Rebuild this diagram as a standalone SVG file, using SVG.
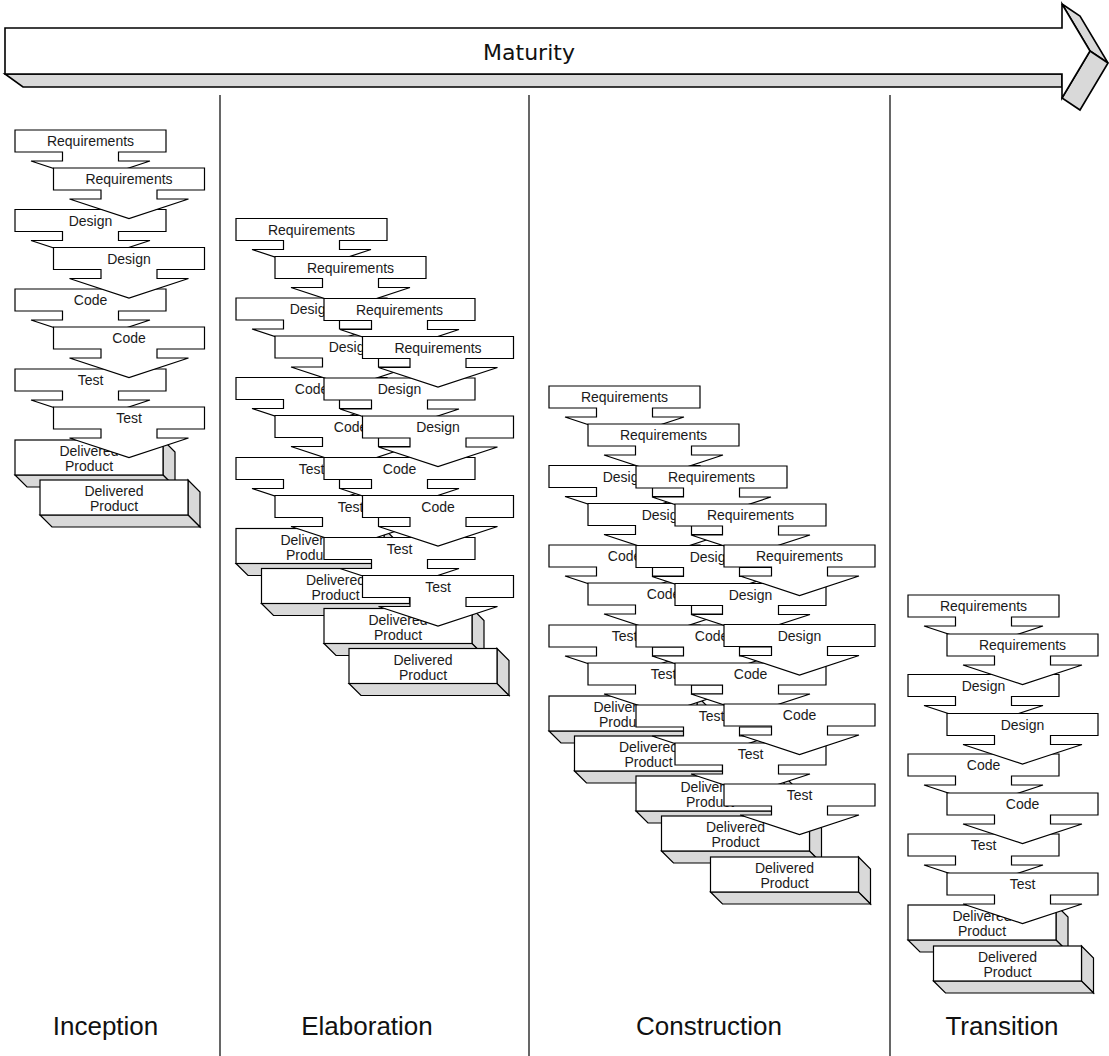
<svg xmlns="http://www.w3.org/2000/svg" xmlns:xlink="http://www.w3.org/1999/xlink" width="1109" height="1056" viewBox="0 0 1109 1056">
<style>
.box{fill:#fff;stroke:#000;stroke-width:1.2;stroke-linejoin:miter}
.shade{fill:#d9d9d9;stroke:#000;stroke-width:1.2;stroke-linejoin:miter}
.lbl{font-family:"Liberation Sans",Arial,sans-serif;font-size:14px;fill:#1a1a1a;text-anchor:middle}
.phase{font-family:"Liberation Sans",Arial,sans-serif;font-size:26px;fill:#111;text-anchor:middle}
.mat{font-family:"DejaVu Sans",Verdana,sans-serif;font-size:22px;fill:#111;text-anchor:middle}
.div{stroke:#000;stroke-width:1.2;fill:none}
.mbox{fill:#fff;stroke:#000;stroke-width:1.6;stroke-linejoin:miter}
.mshade{fill:#d9d9d9;stroke:#000;stroke-width:1.6;stroke-linejoin:miter}
</style>
<defs>
<path id="step" class="box" d="M0,0 H151 V22 H103.5 V31 H135 L75.5,50.5 L16,31 H47.5 V22 H0 Z"/>
<g id="deliv">
<polygon class="shade" points="148,0 160,12 160,47 148,35"/>
<polygon class="shade" points="0,35 148,35 160,47 12,47"/>
<rect class="box" x="0" y="0" width="148" height="35"/>
</g>
</defs>
<rect width="1109" height="1056" fill="#fff"/>

<g id="maturity">
<polygon class="mshade" points="5,74 1062,74 1062,87 23,87"/>
<polygon class="mshade" points="1062,4 1080,16 1108,63 1090,51"/>
<polygon class="mshade" points="1090,51 1108,63 1080,110 1062,98"/>
<polygon class="mbox" points="5,28 1062,28 1062,4 1090,51 1062,98 1062,74 5,74"/>
<text class="mat" x="529" y="60">Maturity</text>
</g>

<g id="dividers">
<line class="div" x1="220" y1="95" x2="220" y2="1056"/>
<line class="div" x1="529" y1="95" x2="529" y2="1056"/>
<line class="div" x1="890" y1="95" x2="890" y2="1056"/>
</g>

<g id="connectors"/>

<!-- Inception -->
<g id="inc-c1">
<g id="inc-c1-req" transform="translate(15,130)"><use xlink:href="#step"/><text class="lbl" x="75.5" y="16">Requirements</text></g>
<g id="inc-c1-des" transform="translate(15,209.5)"><use xlink:href="#step"/><text class="lbl" x="75.5" y="16">Design</text></g>
<g id="inc-c1-code" transform="translate(15,289)"><use xlink:href="#step"/><text class="lbl" x="75.5" y="16">Code</text></g>
<g id="inc-c1-test" transform="translate(15,369)"><use xlink:href="#step"/><text class="lbl" x="75.5" y="16">Test</text></g>
<g id="inc-c1-del" transform="translate(15,440)"><use xlink:href="#deliv"/><text class="lbl" x="74" y="16">Delivered</text><text class="lbl" x="74" y="31">Product</text></g>
</g>
<g id="inc-c2">
<g id="inc-c2-req" transform="translate(53.5,168)"><use xlink:href="#step"/><text class="lbl" x="75.5" y="16">Requirements</text></g>
<g id="inc-c2-des" transform="translate(53.5,247.5)"><use xlink:href="#step"/><text class="lbl" x="75.5" y="16">Design</text></g>
<g id="inc-c2-code" transform="translate(53.5,327)"><use xlink:href="#step"/><text class="lbl" x="75.5" y="16">Code</text></g>
<g id="inc-c2-test" transform="translate(53.5,407)"><use xlink:href="#step"/><text class="lbl" x="75.5" y="16">Test</text></g>
<g id="inc-c2-del" transform="translate(40,480)"><use xlink:href="#deliv"/><text class="lbl" x="74" y="16">Delivered</text><text class="lbl" x="74" y="31">Product</text></g>
</g>

<!-- Elaboration -->
<g id="ela-c1">
<g id="ela-c1-req" transform="translate(236,218.5)"><use xlink:href="#step"/><text class="lbl" x="75.5" y="16">Requirements</text></g>
<g id="ela-c1-des" transform="translate(236,298)"><use xlink:href="#step"/><text class="lbl" x="75.5" y="16">Design</text></g>
<g id="ela-c1-code" transform="translate(236,377.5)"><use xlink:href="#step"/><text class="lbl" x="75.5" y="16">Code</text></g>
<g id="ela-c1-test" transform="translate(236,457.5)"><use xlink:href="#step"/><text class="lbl" x="75.5" y="16">Test</text></g>
<g id="ela-c1-del" transform="translate(236,528.5)"><use xlink:href="#deliv"/><text class="lbl" x="74" y="16">Delivered</text><text class="lbl" x="74" y="31">Product</text></g>
</g>
<g id="ela-c2">
<g id="ela-c2-req" transform="translate(275,256.5)"><use xlink:href="#step"/><text class="lbl" x="75.5" y="16">Requirements</text></g>
<g id="ela-c2-des" transform="translate(275,336)"><use xlink:href="#step"/><text class="lbl" x="75.5" y="16">Design</text></g>
<g id="ela-c2-code" transform="translate(275,415.5)"><use xlink:href="#step"/><text class="lbl" x="75.5" y="16">Code</text></g>
<g id="ela-c2-test" transform="translate(275,495.5)"><use xlink:href="#step"/><text class="lbl" x="75.5" y="16">Test</text></g>
<g id="ela-c2-del" transform="translate(261.5,568.5)"><use xlink:href="#deliv"/><text class="lbl" x="74" y="16">Delivered</text><text class="lbl" x="74" y="31">Product</text></g>
</g>
<g id="ela-c3">
<g id="ela-c3-req" transform="translate(324,298.5)"><use xlink:href="#step"/><text class="lbl" x="75.5" y="16">Requirements</text></g>
<g id="ela-c3-des" transform="translate(324,378)"><use xlink:href="#step"/><text class="lbl" x="75.5" y="16">Design</text></g>
<g id="ela-c3-code" transform="translate(324,457.5)"><use xlink:href="#step"/><text class="lbl" x="75.5" y="16">Code</text></g>
<g id="ela-c3-test" transform="translate(324,537.5)"><use xlink:href="#step"/><text class="lbl" x="75.5" y="16">Test</text></g>
<g id="ela-c3-del" transform="translate(324,608.5)"><use xlink:href="#deliv"/><text class="lbl" x="74" y="16">Delivered</text><text class="lbl" x="74" y="31">Product</text></g>
</g>
<g id="ela-c4">
<g id="ela-c4-req" transform="translate(362.5,336.5)"><use xlink:href="#step"/><text class="lbl" x="75.5" y="16">Requirements</text></g>
<g id="ela-c4-des" transform="translate(362.5,416)"><use xlink:href="#step"/><text class="lbl" x="75.5" y="16">Design</text></g>
<g id="ela-c4-code" transform="translate(362.5,495.5)"><use xlink:href="#step"/><text class="lbl" x="75.5" y="16">Code</text></g>
<g id="ela-c4-test" transform="translate(362.5,575.5)"><use xlink:href="#step"/><text class="lbl" x="75.5" y="16">Test</text></g>
<g id="ela-c4-del" transform="translate(349,648.5)"><use xlink:href="#deliv"/><text class="lbl" x="74" y="16">Delivered</text><text class="lbl" x="74" y="31">Product</text></g>
</g>

<!-- Construction -->
<g id="con-c1">
<g id="con-c1-req" transform="translate(549,386)"><use xlink:href="#step"/><text class="lbl" x="75.5" y="16">Requirements</text></g>
<g id="con-c1-des" transform="translate(549,465.5)"><use xlink:href="#step"/><text class="lbl" x="75.5" y="16">Design</text></g>
<g id="con-c1-code" transform="translate(549,545)"><use xlink:href="#step"/><text class="lbl" x="75.5" y="16">Code</text></g>
<g id="con-c1-test" transform="translate(549,625)"><use xlink:href="#step"/><text class="lbl" x="75.5" y="16">Test</text></g>
<g id="con-c1-del" transform="translate(549,696)"><use xlink:href="#deliv"/><text class="lbl" x="74" y="16">Delivered</text><text class="lbl" x="74" y="31">Product</text></g>
</g>
<g id="con-c2">
<g id="con-c2-req" transform="translate(588,424)"><use xlink:href="#step"/><text class="lbl" x="75.5" y="16">Requirements</text></g>
<g id="con-c2-des" transform="translate(588,503.5)"><use xlink:href="#step"/><text class="lbl" x="75.5" y="16">Design</text></g>
<g id="con-c2-code" transform="translate(588,583)"><use xlink:href="#step"/><text class="lbl" x="75.5" y="16">Code</text></g>
<g id="con-c2-test" transform="translate(588,663)"><use xlink:href="#step"/><text class="lbl" x="75.5" y="16">Test</text></g>
<g id="con-c2-del" transform="translate(574.5,736)"><use xlink:href="#deliv"/><text class="lbl" x="74" y="16">Delivered</text><text class="lbl" x="74" y="31">Product</text></g>
</g>
<g id="con-c3">
<g id="con-c3-req" transform="translate(636,466)"><use xlink:href="#step"/><text class="lbl" x="75.5" y="16">Requirements</text></g>
<g id="con-c3-des" transform="translate(636,545.5)"><use xlink:href="#step"/><text class="lbl" x="75.5" y="16">Design</text></g>
<g id="con-c3-code" transform="translate(636,625)"><use xlink:href="#step"/><text class="lbl" x="75.5" y="16">Code</text></g>
<g id="con-c3-test" transform="translate(636,705)"><use xlink:href="#step"/><text class="lbl" x="75.5" y="16">Test</text></g>
<g id="con-c3-del" transform="translate(636,776)"><use xlink:href="#deliv"/><text class="lbl" x="74" y="16">Delivered</text><text class="lbl" x="74" y="31">Product</text></g>
</g>
<g id="con-c4">
<g id="con-c4-req" transform="translate(675,504)"><use xlink:href="#step"/><text class="lbl" x="75.5" y="16">Requirements</text></g>
<g id="con-c4-des" transform="translate(675,583.5)"><use xlink:href="#step"/><text class="lbl" x="75.5" y="16">Design</text></g>
<g id="con-c4-code" transform="translate(675,663)"><use xlink:href="#step"/><text class="lbl" x="75.5" y="16">Code</text></g>
<g id="con-c4-test" transform="translate(675,743)"><use xlink:href="#step"/><text class="lbl" x="75.5" y="16">Test</text></g>
<g id="con-c4-del" transform="translate(661.5,816)"><use xlink:href="#deliv"/><text class="lbl" x="74" y="16">Delivered</text><text class="lbl" x="74" y="31">Product</text></g>
</g>
<g id="con-c5">
<g id="con-c5-req" transform="translate(724,545)"><use xlink:href="#step"/><text class="lbl" x="75.5" y="16">Requirements</text></g>
<g id="con-c5-des" transform="translate(724,624.5)"><use xlink:href="#step"/><text class="lbl" x="75.5" y="16">Design</text></g>
<g id="con-c5-code" transform="translate(724,704)"><use xlink:href="#step"/><text class="lbl" x="75.5" y="16">Code</text></g>
<g id="con-c5-test" transform="translate(724,784)"><use xlink:href="#step"/><text class="lbl" x="75.5" y="16">Test</text></g>
<g id="con-c5-del" transform="translate(710.5,857)"><use xlink:href="#deliv"/><text class="lbl" x="74" y="16">Delivered</text><text class="lbl" x="74" y="31">Product</text></g>
</g>

<!-- Transition -->
<g id="tra-c1">
<g id="tra-c1-req" transform="translate(908,595)"><use xlink:href="#step"/><text class="lbl" x="75.5" y="16">Requirements</text></g>
<g id="tra-c1-des" transform="translate(908,674.5)"><use xlink:href="#step"/><text class="lbl" x="75.5" y="16">Design</text></g>
<g id="tra-c1-code" transform="translate(908,754)"><use xlink:href="#step"/><text class="lbl" x="75.5" y="16">Code</text></g>
<g id="tra-c1-test" transform="translate(908,834)"><use xlink:href="#step"/><text class="lbl" x="75.5" y="16">Test</text></g>
<g id="tra-c1-del" transform="translate(908,905)"><use xlink:href="#deliv"/><text class="lbl" x="74" y="16">Delivered</text><text class="lbl" x="74" y="31">Product</text></g>
</g>
<g id="tra-c2">
<g id="tra-c2-req" transform="translate(947,634)"><use xlink:href="#step"/><text class="lbl" x="75.5" y="16">Requirements</text></g>
<g id="tra-c2-des" transform="translate(947,713.5)"><use xlink:href="#step"/><text class="lbl" x="75.5" y="16">Design</text></g>
<g id="tra-c2-code" transform="translate(947,793)"><use xlink:href="#step"/><text class="lbl" x="75.5" y="16">Code</text></g>
<g id="tra-c2-test" transform="translate(947,873)"><use xlink:href="#step"/><text class="lbl" x="75.5" y="16">Test</text></g>
<g id="tra-c2-del" transform="translate(933.5,946)"><use xlink:href="#deliv"/><text class="lbl" x="74" y="16">Delivered</text><text class="lbl" x="74" y="31">Product</text></g>
</g>

<g id="phases">
<text class="phase" x="105.5" y="1035">Inception</text>
<text class="phase" x="367" y="1035">Elaboration</text>
<text class="phase" x="709" y="1035">Construction</text>
<text class="phase" x="1002" y="1035">Transition</text>
</g>
</svg>
